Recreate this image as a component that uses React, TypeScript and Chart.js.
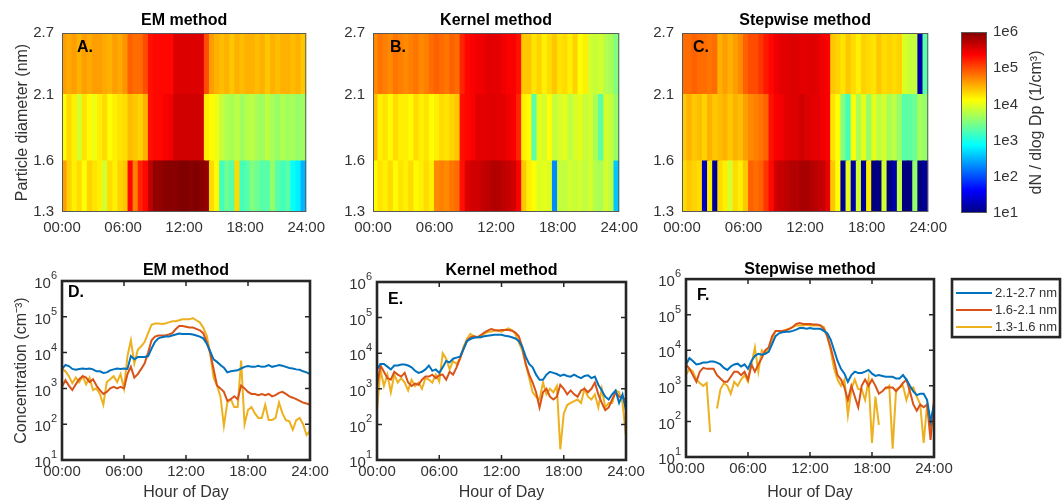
import React, { useEffect, useRef } from 'react';
import { Chart, registerables } from 'chart.js';

Chart.register(...registerables);

const FONT = "'Liberation Sans', Arial, Helvetica, sans-serif";
const AXIS_COLOR = '#333333';
Chart.defaults.font.family = FONT;

// ---------- categories / ticks ----------
const LINE_STEP_HOURS = 20 / 60; // line series sampled every 20 min, 00:00..24:00
const HEAT_COL_HOURS = 0.5; // heat-map columns are 30 min wide
const HOUR_TICKS = [0, 6, 12, 18, 24];
const DIAM_EDGES = [1.3, 1.6, 2.1, 2.7]; // size-bin edges (nm)
const DIAM_TICKS = [1.3, 1.6, 2.1, 2.7];
const CONC_TICKS = [1e1, 1e2, 1e3, 1e4, 1e5, 1e6];
const CBAR_TICKS = [1e1, 1e2, 1e3, 1e4, 1e5, 1e6];
const SIZE_BINS = ['2.1-2.7 nm', '1.6-2.1 nm', '1.3-1.6 nm'];
const SERIES_COLORS = ['#0072BD', '#D95319', '#EDB120'];

// ---------- heat-map values: dN/dlogDp (1/cm3), 48 half-hour columns ----------
// EM method
const A_TOP = [4e4,3.5e4,4e4,3.2e4,4e4,3.5e4,4e4,4e4,3.5e4,3.2e4,4e4,3.5e4,
  4.5e4,8e4,7e4,7e4,1e5,2e5,2.2e5,2.2e5,2.2e5,2.2e5,
  3.5e5,3.5e5,3.5e5,3.5e5,3.5e5,3.5e5,1e5,4e4,
  3.2e4,2.8e4,3.2e4,2.5e4,3.2e4,2.8e4,3.2e4,3.2e4,2.8e4,3.2e4,2.5e4,3.2e4,2.8e4,3.2e4,3.2e4,2.8e4,3.2e4,2.5e4];
const A_MID = [1.4e4,2e4,1.6e4,8e3,1.8e4,1.4e4,1.1e4,1.6e4,2e4,1.3e4,1.6e4,1.8e4,
  2e4,2.8e4,2.5e4,2.2e4,3.2e4,2e5,2.2e5,2.2e5,2.5e5,2.8e5,
  4e5,4e5,4e5,4e5,4e5,4e5,1.6e4,1.4e4,
  1.1e4,7e3,5.6e3,5e3,6.3e3,4.5e3,5.6e3,6.3e3,5e3,4.5e3,6.3e3,5e3,4e3,5.6e3,4.5e3,5e3,4e3,4.5e3];
const A_BOT = [4e4,2.2e4,1.6e4,2e4,1.3e4,2.2e4,1.8e4,1.6e4,8e3,2e4,1.6e4,2.2e4,
  2.5e4,2.2e5,5.6e4,1.6e5,2.2e5,5e5,
  8e5,8e5,9e5,9e5,9e5,1e6,1e6,9e5,1e6,9e5,8e5,2e4,
  1.4e4,1.6e3,2.5e3,2e3,2e4,1.6e3,2e3,3.2e3,2.5e3,2e3,2e3,4e3,2e3,1.6e3,2e3,8e2,6.3e2,3.2e2];
// Kernel method
const B_TOP = [5e4,6.3e4,5.6e4,5e4,6.3e4,5.6e4,5e4,5.6e4,6.3e4,5e4,5.6e4,7e4,
  8e4,7e4,6.3e4,8e4,7e4,1.6e5,2.2e5,2.5e5,2.8e5,2.8e5,
  3.2e5,3.2e5,3.2e5,2.8e5,2.5e5,2.5e5,2e5,2.5e4,
  2.5e4,1.8e4,2.2e4,1.6e4,2e4,2.5e4,1.8e4,2e4,1.6e4,2.2e4,1.3e4,1.6e4,8e3,7e3,8e3,5.6e3,5e3,3.2e3];
const B_MID = [2.8e4,1.6e4,1.8e4,1.4e4,2e4,1.6e4,1.6e4,1.4e4,2e4,1.6e4,1.8e4,1.4e4,
  1.6e4,2e4,1.8e4,2.2e4,2.5e4,2e5,2.2e5,2.5e5,3.2e5,3.2e5,
  3.2e5,3.5e5,3.2e5,3.2e5,2.8e5,2.5e5,1.6e5,1.6e4,
  1.4e4,2e3,1e4,8e3,1.3e4,7e3,8e3,1e4,6.3e3,8e3,1e4,7e3,8e3,5e3,2e3,8e3,7e3,4e3];
const B_BOT = [1.4e4,1.8e4,1.6e4,2e4,1.4e4,1.8e4,1.6e4,2e4,1.4e4,1.6e4,2e4,1.6e4,
  5e4,5.6e4,5e4,6.3e4,7e4,2e5,
  3.5e5,4e5,4e5,4.5e5,5e5,5.6e5,5.6e5,5e5,4.5e5,4e5,2.5e5,2.5e4,
  1.6e4,1.3e4,9e3,1e4,9e3,2e2,7e3,6.3e3,8e3,7e3,8e3,6.3e3,8e3,5.6e3,5e3,8e3,6.3e3,4e2];
// Stepwise method
const C_TOP = [7e4,7e4,8e4,7e4,7e4,6.3e4,7e4,3.2e4,4e4,3.2e4,4e4,5e4,
  8e4,1e5,1e5,1.3e5,1.8e5,2.2e5,
  2.8e5,3.2e5,3.2e5,3.5e5,3.5e5,3.2e5,3.2e5,3.5e5,3.2e5,2.8e5,2.5e5,2.5e4,
  2.2e4,1.8e4,2.5e4,2e4,1.6e4,2.2e4,2e4,1.8e4,2.5e4,2e4,2.2e4,2e4,2.2e4,9e3,7e3,7e3,1.6e1,2e3];
const C_MID = [2.5e4,3.2e4,2.5e4,2.8e4,2.2e4,3.2e4,2.5e4,2.8e4,3.2e4,2.5e4,3.2e4,2.8e4,
  4e4,5e4,5.6e4,6.3e4,8e4,2e5,
  2.5e5,2.8e5,3.2e5,3.5e5,3.5e5,4e5,3.5e5,3.2e5,3.2e5,2.8e5,2.5e5,1.8e4,
  1.3e4,3.2e3,1.6e3,1.3e4,5e3,1e4,4e3,1e4,6.3e3,8e3,5e3,6.3e3,4e3,2e3,2.2e3,2.5e3,5e3,4e3];
const C_BOT = [2e4,2.5e4,2.2e4,2e4,2e1,1.6e4,1.3e1,2e4,1.6e4,8e3,2e4,1.6e4,
  2.5e4,8e4,7e4,8e4,1.3e5,2.2e5,
  4e5,4.5e5,5e5,5.6e5,5.6e5,6.3e5,6.3e5,5.6e5,5e5,4.5e5,3.2e5,2.5e4,
  1.3e4,1.3e1,1e4,1.6e1,8e3,1.3e1,1.6e4,1e1,1e1,8e3,1e1,1.6e1,6.3e3,1e1,1e1,4e3,1e1,1.3e1];

// ---------- concentration series (cm-3), every 20 min 00:00..24:00 ----------
const D_BLUE = [3.5e3,4.5e3,4.2e3, 3.5e3,3.3e3,3.5e3, 3.6e3,3.5e3,3.6e3, 3.4e3,3.0e3,3.0e3,
  2.7e3,2.8e3,3.2e3, 3.4e3,3.6e3,3.5e3, 3.6e3,3.5e3,8.0e3, 6.5e3,7.5e3,7.5e3,
  7.5e3,8.0e3,1.3e4, 2.0e4,2.5e4,2.7e4, 2.8e4,2.8e4,3.0e4, 3.2e4,3.4e4,3.3e4,
  3.3e4,3.3e4,3.2e4, 3.0e4,2.8e4,2.5e4, 1.8e4,1.1e4,6.5e3, 5.5e3,4.5e3,3.8e3,
  2.8e3,3.0e3,3.1e3, 3.2e3,3.6e3,4.0e3, 4.2e3,4.0e3,4.0e3, 4.3e3,4.0e3,4.1e3,
  4.5e3,4.0e3,4.2e3, 4.5e3,4.3e3,4.0e3, 3.7e3,3.6e3,3.4e3, 3.3e3,3.0e3,2.8e3, 2.5e3];
const D_RED = [1.1e3,1.7e3,1.2e3, 9e2,1.3e3,1.8e3, 2.2e3,2.0e3,1.5e3, 1.8e3,1.2e3,9e2,
  7e2,8e2,1.0e3, 1.1e3,1.0e3,1.1e3, 1.0e3,2.5e3,4.0e3, 2.0e3,2.5e3,3.5e3,
  5.0e3,1.0e4,2.2e4, 2.8e4,3.0e4,3.0e4, 3.0e4,3.2e4,3.5e4, 4.5e4,5.5e4,5.5e4,
  5.3e4,5.0e4,5.0e4, 4.6e4,4.2e4,3.5e4, 2.0e4,1.0e4,3.5e3, 1.2e3,1.0e3,8e2,
  4.5e2,5e2,6e2, 5e2,1.2e3,1.0e3, 8e2,7e2,7e2, 6.5e2,7e2,6.5e2,
  7e2,6e2,6.5e2, 7.5e2,8e2,7e2, 6e2,5.5e2,5e2, 4.5e2,4e2,3.8e2, 3.5e2];
const D_YELLOW = [3.5e3,3.0e3,2.2e3, 1.4e3,2.0e3,1.5e3, 2.2e3,1.3e3,2.0e3, 9e2,1.0e3,7e2,
  3.5e2,1.5e3,1.8e3, 2.2e3,1.5e3,2.5e3, 1.0e3,8e3,2.2e4, 5e3,1.2e4,1.5e4,
  2.0e4,3.5e4,6.0e4, 6.5e4,6.5e4,6.3e4, 6.5e4,7.0e4,7.5e4, 7.5e4,8.0e4,8.5e4,
  8.5e4,8.5e4,9.2e4, 8.0e4,7.0e4,5.0e4, 3.0e4,1.0e4,2.0e3, 1.2e3,6e2,9e1,
  4e2,5e2,3e2, 3e2,6e3,1.0e2, 2.5e2,3e2,2e2, 1.5e2,1.5e2,3.5e2,
  1.3e2,1.3e2,1.5e2, 4e2,2e2,1.3e2, 1.2e2,7e1,1.3e2, 1.5e2,1.0e2,5e1, 6.5e1];

const E_BLUE = [3.5e3,5.0e3,5.0e3, 4.2e3,3.5e3,4.5e3, 4.5e3,4.8e3,4.8e3, 4.5e3,4.0e3,3.2e3,
  2.8e3,3.0e3,3.5e3, 4.5e3,3.2e3,3.5e3, 2.8e3,4.0e3,6.0e3, 5.5e3,7.0e3,7.5e3,
  8.0e3,1.3e4,2.2e4, 2.5e4,2.7e4,2.8e4, 2.8e4,3.0e4,3.1e4, 3.2e4,3.3e4,3.3e4,
  3.3e4,3.1e4,3.0e4, 2.8e4,2.6e4,2.2e4, 1.5e4,8.0e3,5.0e3, 4.0e3,2.5e3,1.8e3,
  1.8e3,2.5e3,3.0e3, 2.8e3,2.6e3,2.3e3, 2.5e3,2.3e3,2.2e3, 2.5e3,2.2e3,2.0e3,
  2.3e3,2.4e3,2.0e3, 2.2e3,1.3e3,9e2, 6e2,5e2,7e2, 9e2,4e2,7e2, 2.5e2];
const E_RED = [1.2e3,4.5e3,3.0e3, 2.0e3,1.8e3,3.0e3, 2.5e3,2.2e3,2.8e3, 1.5e3,1.2e3,1.4e3,
  1.3e3,1.8e3,2.2e3, 2.2e3,2.5e3,2.0e3, 2.4e3,2.5e3,1.8e3, 3.0e3,2.5e3,4.0e3,
  7.0e3,1.3e4,2.2e4, 2.8e4,3.0e4,2.8e4, 3.2e4,3.8e4,4.3e4, 4.8e4,4.5e4,4.3e4,
  4.5e4,4.5e4,4.5e4, 4.3e4,3.8e4,3.0e4, 1.5e4,5.0e3,2.5e3, 1.5e3,8e2,3e2,
  8e2,1.0e3,6e2, 5e2,6e2,1.3e3, 1.0e3,7e2,9e2, 7e2,6e2,9e2,
  1.0e3,8e2,1.0e3, 1.5e3,7e2,4e2, 2.5e2,3e2,5e2, 8e2,6e2,5.5e2, 5e2];
const E_YELLOW = [2.5e2,3.5e3,1.2e3, 2.5e3,8e2,2.5e3, 1.5e3,2.0e3,1.5e3, 9e2,1.8e3,1.2e3,
  1.5e3,1.0e3,2.0e3, 1.8e3,1.5e3,2.5e3, 1.6e3,1.0e4,7.0e3, 3.5e3,6.0e3,5.0e3,
  7.0e3,1.5e4,2.5e4, 3.5e4,3.0e4,2.8e4, 2.8e4,3.5e4,4.0e4, 4.0e4,4.3e4,4.5e4,
  4.0e4,4.5e4,5.0e4, 4.5e4,3.5e4,2.0e4, 1.2e4,5.0e3,2.0e3, 8e2,6e2,5e2,
  1.5e3,7e2,1.0e3, 8e2,1.2e3,2.0e1, 2.0e2,3.5e2,4.0e2, 4.5e2,5.0e2,4.0e2,
  1.0e3,6e2,5e2, 7e2,3e2,1.0e3, 3e2,4e2,4e2, 9e2,8e2,4e2, 4.5e1];

const F_BLUE = [4.0e3,6.0e3,5.0e3, 4.0e3,4.2e3,4.5e3, 4.5e3,4.8e3,4.8e3, 4.5e3,4.0e3,3.2e3,
  2.8e3,3.5e3,4.0e3, 4.2e3,3.5e3,4.0e3, 3.0e3,5.0e3,7.0e3, 8.0e3,7.5e3,8.0e3,
  9.0e3,1.5e4,2.5e4, 3.0e4,3.2e4,3.3e4, 3.3e4,3.5e4,3.8e4, 4.2e4,4.2e4,4.0e4,
  4.2e4,4.0e4,4.0e4, 4.0e4,3.5e4,3.0e4, 2.0e4,1.0e4,5.0e3, 3.0e3,2.2e3,1.3e3,
  2.0e3,2.5e3,2.3e3, 2.3e3,2.5e3,2.8e3, 2.2e3,1.9e3,2.0e3, 1.9e3,1.8e3,1.8e3,
  1.8e3,1.6e3,1.6e3, 2.0e3,1.5e3,1.0e3, 7e2,5.5e2,6e2, 6e2,4e2,1.0e2, 3.0e2];
const F_RED = [4.0e3,3.0e3,2.0e3, 1.3e3,2.5e3,3.2e3, 3.0e3,3.0e3,3.0e3, 2.0e3,1.6e3,1.3e3,
  1.3e3,1.8e3,2.5e3, 2.5e3,2.0e3,2.5e3, 1.5e3,4.0e3,2.5e3, 4.0e3,6.0e3,1.0e4,
  1.2e4,2.5e4,3.5e4, 3.5e4,3.5e4,3.6e4, 4.0e4,4.5e4,5.5e4, 5.8e4,5.5e4,5.5e4,
  5.5e4,5.3e4,5.3e4, 5.0e4,4.0e4,2.5e4, 1.2e4,5.0e3,2.0e3, 1.5e3,9e2,4e2,
  1.0e3,5e2,2.5e2, 1.0e3,1.5e3,1.0e3, 1.5e3,1.0e3,6e2, 7e2,9e2,9e2,
  9e2,7e2,9e2, 1.2e3,1.5e3,7e2, 3e2,2e2,3e2, 2.5e2,3e2,3e1, 4e2];
const F_YELLOW = [2.0e3,3.0e3,2.5e3, 1.5e3,1.2e3,1.0e3, 1.2e3,5e1,null, 2.3e2,8e2,1.2e3,
  1.0e3,6e2,1.3e3, 1.0e3,1.5e3,2.0e3, 1.3e3,4.0e3,1.2e4, 2.5e3,1.0e4,8.0e3,
  1.2e4,2.0e4,3.5e4, 3.5e4,3.5e4,3.8e4, 4.0e4,4.5e4,5.0e4, 5.0e4,5.0e4,5.2e4,
  5.0e4,5.0e4,5.0e4, 5.0e4,4.5e4,2.5e4, 1.0e4,3.0e3,1.5e3, 1.0e3,1.5e3,1.5e2,
  8e2,1.5e3,8e2, 8e2,4e2,1.5e3, 2.5e1,5e2,8e1, null,8e2,1.0e3,
  1.7e1,8e2,9e2, 1.0e3,4e2,8e2, 9e2,5e2,3e2, 2.5e1,3e2,8e1, 3.0e2];

// ---------- helpers ----------
const clamp01 = (x: number) => Math.max(0, Math.min(1, x));
function jetColor(v: number): string {
  const t = clamp01((Math.log10(v) - 1) / 5);
  const r = clamp01(Math.min(4 * t - 1.5, -4 * t + 4.5));
  const g = clamp01(Math.min(4 * t - 0.5, -4 * t + 3.5));
  const b = clamp01(Math.min(4 * t + 0.5, -4 * t + 2.5));
  return `rgb(${Math.round(r * 255)},${Math.round(g * 255)},${Math.round(b * 255)})`;
}
const hhmm = (v: number) => String(v).padStart(2, '0') + ':00';

type Geo = { L: number; T: number; R: number; B: number; cx: number; cy: number; cr: number; cb: number };
const canvasBox = (g: Geo) => ({ x: g.cx, y: g.cy, w: g.cr - g.cx, h: g.cb - g.cy });

function titleOpts(text: string, g: Geo, centerY: number) {
  const mt = g.T - g.cy;
  const pt = centerY - g.cy - 9.6;
  return {
    display: true, text, fullSize: false, color: '#000',
    font: { family: FONT, size: 16, weight: 'bold' as const },
    padding: { top: pt, bottom: Math.max(0, mt - 19.2 - pt) },
  };
}

// power-of-ten labels "10" + raised exponent, placed on the y scale's own ticks
function drawPowerLabels(chart: any) {
  const { ctx, chartArea: a, scales } = chart;
  const ys = scales.y;
  ctx.fillStyle = AXIS_COLOR;
  ctx.textBaseline = 'middle';
  ys.ticks.forEach((t: any) => {
    const y = ys.getPixelForValue(t.value);
    const exp = String(Math.round(Math.log10(t.value)));
    ctx.font = `11px ${FONT}`;
    ctx.textAlign = 'right';
    const ew = ctx.measureText(exp).width;
    const right = a.left - 5;
    ctx.fillText(exp, right, y - 5);
    ctx.font = `15px ${FONT}`;
    ctx.fillText('10', right - ew, y + 3);
  });
}

function framePlugin(kind: 'thin' | 'thick', letter: string, dx: number, dy: number, extra?: (chart: any) => void) {
  return {
    id: 'frame_' + letter,
    afterDraw(chart: any) {
      const { ctx, chartArea: a, scales } = chart;
      ctx.save();
      if (kind === 'thick') {
        ctx.strokeStyle = '#262626';
        ctx.lineWidth = 1.5;
        ctx.beginPath();
        HOUR_TICKS.forEach((h) => {
          const x = scales.x.getPixelForValue(h);
          ctx.moveTo(x, a.bottom); ctx.lineTo(x, a.bottom - 5);
          ctx.moveTo(x, a.top); ctx.lineTo(x, a.top + 5);
        });
        CONC_TICKS.forEach((c) => {
          const y = scales.y.getPixelForValue(c);
          ctx.moveTo(a.left, y); ctx.lineTo(a.left + 5, y);
          ctx.moveTo(a.right, y); ctx.lineTo(a.right - 5, y);
        });
        ctx.stroke();
        ctx.lineWidth = 2.6;
        ctx.strokeRect(a.left, a.top, a.right - a.left, a.bottom - a.top);
        drawPowerLabels(chart);
      } else {
        ctx.strokeStyle = '#5a5a5a';
        ctx.lineWidth = 1;
        ctx.strokeRect(a.left + 0.5, a.top + 0.5, a.right - a.left - 1, a.bottom - a.top - 1);
      }
      ctx.fillStyle = '#000';
      ctx.font = `bold 16px ${FONT}`;
      ctx.textBaseline = 'middle';
      ctx.textAlign = 'left';
      ctx.fillText(letter, a.left + dx, a.top + dy);
      if (extra) extra(chart);
      ctx.restore();
    },
  };
}

function xAxis(g: Geo, withTitle: boolean, pad: number, titleCY: number) {
  const mb = g.cb - g.B;
  return {
    type: 'linear' as const, min: 0, max: 24, offset: false,
    afterBuildTicks: (s: any) => { s.ticks = HOUR_TICKS.map((v) => ({ value: v })); },
    afterFit: (s: any) => { s.height = mb; },
    grid: { display: false, drawTicks: false }, border: { display: false },
    ticks: { autoSkip: false, maxRotation: 0, padding: pad, color: AXIS_COLOR, font: { size: 15 }, callback: (v: any) => hhmm(Number(v)) },
    title: withTitle
      ? { display: true, text: 'Hour of Day', color: AXIS_COLOR, font: { size: 16 }, padding: { top: 0, bottom: g.cb - 9.6 - titleCY } }
      : { display: false },
  };
}

function heatConfig(g: Geo, title: string, letter: string, dx: number, rows: number[][], yTitle: boolean) {
  const ml = g.L - g.cx;
  const datasets = rows.map((vals, r) => ({
    label: `${DIAM_EDGES[r]}-${DIAM_EDGES[r + 1]} nm`,
    data: vals.map((v, i) => ({ x: (i + 0.5) * HEAT_COL_HOURS, y: [DIAM_EDGES[r], DIAM_EDGES[r + 1]] })),
    backgroundColor: vals.map(jetColor),
    borderWidth: 0,
    inflateAmount: 0.6,
  }));
  return {
    type: 'bar',
    data: { datasets },
    options: {
      responsive: false, animation: false, devicePixelRatio: 1, events: [],
      layout: { padding: { left: 0, top: 0, right: g.cr - g.R, bottom: 0 } },
      datasets: { bar: { grouped: false, barPercentage: 1, categoryPercentage: 1 } },
      plugins: { legend: { display: false }, tooltip: { enabled: false }, title: titleOpts(title, g, 21) },
      scales: {
        x: xAxis(g, false, 7, 0),
        y: {
          type: 'logarithmic', min: 1.3, max: 2.7,
          afterBuildTicks: (s: any) => { s.ticks = DIAM_TICKS.map((v) => ({ value: v })); },
          afterFit: (s: any) => { s.width = ml; },
          grid: { display: false, drawTicks: false }, border: { display: false },
          ticks: { autoSkip: false, padding: 8, color: AXIS_COLOR, font: { size: 15 }, callback: (v: any) => Number(v).toFixed(1) },
          title: yTitle
            ? { display: true, text: 'Particle diameter (nm)', color: AXIS_COLOR, font: { size: 16 }, padding: { top: 13.4, bottom: 0 } }
            : { display: false },
        },
      },
    },
    plugins: [framePlugin('thin', letter, dx, 15)],
  };
}

function lineConfig(g: Geo, title: string, titleCY: number, letter: string, dx: number, dy: number,
  series: (number | null)[][], yTitle: boolean, withLegend: boolean) {
  const ml = g.L - g.cx;
  const datasets = series.map((vals, k) => ({
    label: SIZE_BINS[k],
    data: vals.map((v, i) => ({ x: i * LINE_STEP_HOURS, y: v })),
    borderColor: SERIES_COLORS[k],
    backgroundColor: SERIES_COLORS[k],
    borderWidth: 2,
    pointRadius: 0,
    tension: 0,
    spanGaps: false,
  }));
  const legendDraw = (chart: any) => {
    const { ctx, chartArea: a } = chart;
    const lx = a.right + 18, ly = a.top;
    ctx.strokeStyle = '#262626';
    ctx.lineWidth = 2.6;
    ctx.strokeRect(lx, ly, 108, 58);
    ctx.font = `13px ${FONT}`;
    ctx.textBaseline = 'middle';
    ctx.textAlign = 'left';
    chart.data.datasets.forEach((ds: any, i: number) => {
      const y = ly + 14 + i * 17;
      ctx.strokeStyle = ds.borderColor;
      ctx.lineWidth = 2;
      ctx.beginPath(); ctx.moveTo(lx + 4, y); ctx.lineTo(lx + 40, y); ctx.stroke();
      ctx.fillStyle = AXIS_COLOR;
      ctx.fillText(ds.label, lx + 43, y + 0.5);
    });
  };
  return {
    type: 'line',
    data: { datasets },
    options: {
      responsive: false, animation: false, devicePixelRatio: 1, events: [],
      layout: { padding: { left: 0, top: 0, right: g.cr - g.R, bottom: 0 } },
      plugins: { legend: { display: false }, tooltip: { enabled: false }, title: titleOpts(title, g, titleCY) },
      scales: {
        x: xAxis(g, true, 3, 493),
        y: {
          type: 'logarithmic', min: 10, max: 1e6,
          afterBuildTicks: (s: any) => { s.ticks = CONC_TICKS.map((v) => ({ value: v })); },
          afterFit: (s: any) => { s.width = ml; },
          grid: { display: false, drawTicks: false }, border: { display: false },
          ticks: { display: false },
          title: yTitle
            ? { display: true, text: 'Concentration (cm\u207B\u00B3)', color: AXIS_COLOR, font: { size: 16 }, padding: { top: 12.4, bottom: 0 } }
            : { display: false },
        },
      },
    },
    plugins: [framePlugin('thick', letter, dx, dy, withLegend ? legendDraw : undefined)],
  };
}

function colorbarConfig(g: Geo) {
  const jetGradient = (c: any) => {
    const chart = c.chart;
    if (!chart.chartArea) return 'transparent';
    const ys = chart.scales.y;
    const grad = chart.ctx.createLinearGradient(0, ys.getPixelForValue(CBAR_TICKS[0]), 0, ys.getPixelForValue(CBAR_TICKS[5]));
    grad.addColorStop(0, '#000080');
    grad.addColorStop(0.125, '#0000ff');
    grad.addColorStop(0.375, '#00ffff');
    grad.addColorStop(0.625, '#ffff00');
    grad.addColorStop(0.875, '#ff0000');
    grad.addColorStop(1, '#800000');
    return grad;
  };
  return {
    type: 'bar',
    data: { labels: [''], datasets: [{ data: [[CBAR_TICKS[0], CBAR_TICKS[5]]], backgroundColor: jetGradient, borderWidth: 0, barPercentage: 1, categoryPercentage: 1 }] },
    options: {
      responsive: false, animation: false, devicePixelRatio: 1, events: [],
      layout: { padding: { left: 0, top: g.T - g.cy, right: 0, bottom: g.cb - g.B } },
      plugins: { legend: { display: false }, tooltip: { enabled: false } },
      scales: {
        x: { display: false },
        y: {
          type: 'logarithmic', position: 'right', min: CBAR_TICKS[0], max: CBAR_TICKS[5],
          afterBuildTicks: (s: any) => { s.ticks = CBAR_TICKS.map((v) => ({ value: v })); },
          afterFit: (s: any) => { s.width = g.cr - g.R; },
          grid: { display: false, drawTicks: false }, border: { display: false },
          ticks: { autoSkip: false, padding: 6, color: AXIS_COLOR, font: { size: 15 }, callback: (v: any) => '1e' + Math.round(Math.log10(Number(v))) },
        },
      },
    },
    plugins: [{
      id: 'cbarFrame',
      afterDraw(chart: any) {
        const { ctx, chartArea: a } = chart;
        ctx.save();
        ctx.strokeStyle = '#5a5a5a';
        ctx.lineWidth = 1;
        ctx.strokeRect(a.left + 0.5, a.top + 0.5, a.right - a.left - 1, a.bottom - a.top - 1);
        ctx.translate(a.right + 50, (a.top + a.bottom) / 2);
        ctx.rotate(-Math.PI / 2);
        ctx.fillStyle = AXIS_COLOR;
        ctx.font = `16px ${FONT}`;
        ctx.textAlign = 'center';
        ctx.textBaseline = 'middle';
        ctx.fillText('dN / dlog Dp (1/cm\u00B3)', 0, 0);
        ctx.restore();
      },
    }],
  };
}

// ---------- layout (page pixels) ----------
const GEO_A: Geo = { L: 62, T: 33, R: 310, B: 212, cx: 0, cy: 0, cr: 332, cb: 241 };
const GEO_B: Geo = { L: 373, T: 33, R: 623, B: 212, cx: 333, cy: 0, cr: 645, cb: 241 };
const GEO_C: Geo = { L: 682, T: 33, R: 932, B: 212, cx: 642, cy: 0, cr: 954, cb: 241 };
const GEO_CB: Geo = { L: 961, T: 32, R: 987, B: 213, cx: 961, cy: 0, cr: 1063, cb: 241 };
const GEO_D: Geo = { L: 62, T: 281, R: 310, B: 460, cx: 0, cy: 251, cr: 332, cb: 504 };
const GEO_E: Geo = { L: 377, T: 282, R: 626, B: 460, cx: 337, cy: 251, cr: 648, cb: 504 };
const GEO_F: Geo = { L: 686, T: 279, R: 934, B: 457, cx: 636, cy: 251, cr: 1063, cb: 504 };

function ChartBox({ geo, make }: { geo: Geo; make: () => any }) {
  const ref = useRef<HTMLCanvasElement | null>(null);
  const b = canvasBox(geo);
  useEffect(() => {
    const chart = new Chart(ref.current as HTMLCanvasElement, make());
    return () => chart.destroy();
  }, []);
  return (
    <div style={{ position: 'absolute', left: b.x, top: b.y, width: b.w, height: b.h }}>
      <canvas ref={ref} width={b.w} height={b.h} style={{ display: 'block', width: b.w, height: b.h }} />
    </div>
  );
}

export default function App() {
  return (
    <div style={{ position: 'fixed', left: 0, top: 0, width: 1063, height: 504, background: '#fff', overflow: 'hidden' }}>
      <ChartBox geo={GEO_A} make={() => heatConfig(GEO_A, 'EM method', 'A.', 15, [A_BOT, A_MID, A_TOP], true)} />
      <ChartBox geo={GEO_B} make={() => heatConfig(GEO_B, 'Kernel method', 'B.', 17, [B_BOT, B_MID, B_TOP], false)} />
      <ChartBox geo={GEO_C} make={() => heatConfig(GEO_C, 'Stepwise method', 'C.', 11, [C_BOT, C_MID, C_TOP], false)} />
      <ChartBox geo={GEO_CB} make={() => colorbarConfig(GEO_CB)} />
      <ChartBox geo={GEO_D} make={() => lineConfig(GEO_D, 'EM method', 271, 'D.', 6, 12, [D_BLUE, D_RED, D_YELLOW], true, false)} />
      <ChartBox geo={GEO_E} make={() => lineConfig(GEO_E, 'Kernel method', 271, 'E.', 11, 18, [E_BLUE, E_RED, E_YELLOW], false, false)} />
      <ChartBox geo={GEO_F} make={() => lineConfig(GEO_F, 'Stepwise method', 269.5, 'F.', 11, 16, [F_BLUE, F_RED, F_YELLOW], false, true)} />
    </div>
  );
}
